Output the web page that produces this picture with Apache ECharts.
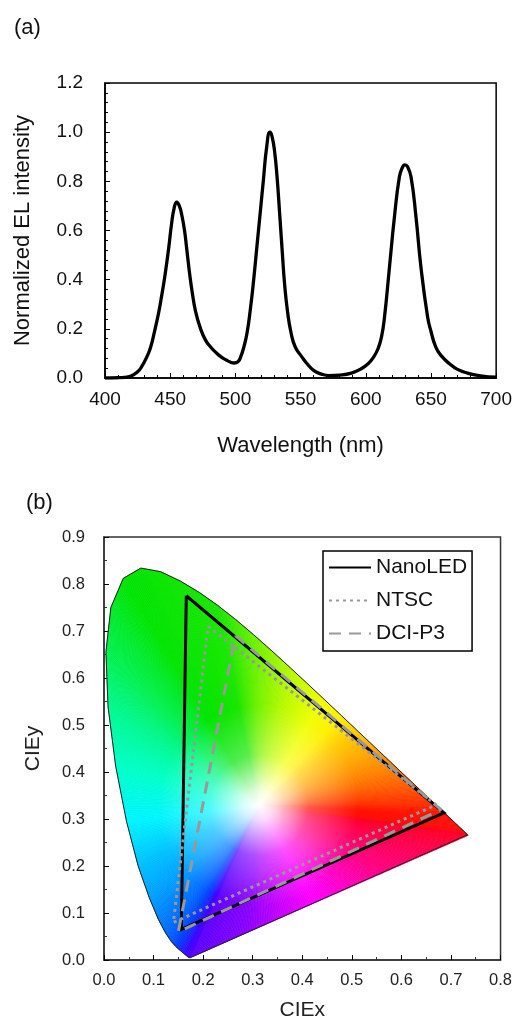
<!DOCTYPE html>
<html>
<head>
<meta charset="utf-8">
<script src="https://cdn.jsdelivr.net/npm/echarts@6/dist/echarts.min.js"></script>
<style>
  html, body { margin: 0; padding: 0; background: #fff; }
  #chart { width: 515px; height: 1022px; }
</style>
</head>
<body>
<div id="chart"></div>
<script>
// (a) EL spectrum
const wavelengths = [400, 410, 415, 420, 425, 428, 432, 435, 438, 441,
  443, 445.5, 447, 449, 451, 453, 455, 457, 459, 461,
  462.5, 465, 467, 469.5, 473, 477, 481, 485, 489, 493,
  496, 499, 502, 504, 506.5, 509, 511.5, 514, 516.5, 519,
  521.5, 524, 526.5, 528, 530, 532, 534, 536, 537.7, 540,
  542.8, 546, 551, 555, 560, 566, 572, 580, 589, 596,
  602, 606, 609.3, 612, 614.4, 618.2, 622, 625.8, 628, 630,
  632, 634.7, 638.5, 642.3, 647.4, 650, 653.7, 658, 664, 670,
  678, 688, 700];
const intensity = [0.000, 0.001, 0.003, 0.008, 0.025, 0.045, 0.085, 0.125, 0.19, 0.262,
  0.32, 0.40, 0.455, 0.535, 0.625, 0.69, 0.715, 0.70, 0.66, 0.60,
  0.534, 0.42, 0.345, 0.27, 0.205, 0.155, 0.126, 0.104, 0.086, 0.073,
  0.065, 0.061, 0.066, 0.085, 0.126, 0.185, 0.28, 0.398, 0.534, 0.67,
  0.806, 0.94, 1.0, 0.985, 0.925, 0.815, 0.665, 0.51, 0.385, 0.27,
  0.181, 0.125, 0.086, 0.058, 0.031, 0.016, 0.010, 0.012, 0.020, 0.036,
  0.059, 0.085, 0.118, 0.165, 0.249, 0.452, 0.656, 0.819, 0.855, 0.867,
  0.86, 0.819, 0.656, 0.452, 0.249, 0.19, 0.126, 0.09, 0.059, 0.036,
  0.020, 0.009, 0.003];

// (b) CIE 1931 spectral locus
const locusNm = [380, 400, 410, 420, 430, 440, 450, 460, 465, 470, 475, 480, 485, 490, 495, 500,
  505, 510, 515, 520, 525, 530, 535, 540, 545, 550, 555, 560, 565, 570, 575, 580,
  585, 590, 595, 600, 605, 610, 620, 630, 640, 650, 660, 680, 700];
const locusX = [0.1741, 0.1733, 0.1726, 0.1714, 0.1689, 0.1644, 0.1566, 0.1440, 0.1355, 0.1241, 0.1096, 0.0913, 0.0687, 0.0454, 0.0235, 0.0082,
  0.0039, 0.0139, 0.0389, 0.0743, 0.1142, 0.1547, 0.1929, 0.2296, 0.2658, 0.3016, 0.3373, 0.3731, 0.4087, 0.4441, 0.4788, 0.5125,
  0.5448, 0.5752, 0.6029, 0.6270, 0.6482, 0.6658, 0.6915, 0.7079, 0.7190, 0.7260, 0.7300, 0.7334, 0.7347];
const locusY = [0.0050, 0.0048, 0.0048, 0.0051, 0.0069, 0.0109, 0.0177, 0.0297, 0.0399, 0.0578, 0.0868, 0.1327, 0.2007, 0.2950, 0.4127, 0.5384,
  0.6548, 0.7502, 0.8120, 0.8338, 0.8262, 0.8059, 0.7816, 0.7543, 0.7243, 0.6923, 0.6589, 0.6245, 0.5896, 0.5547, 0.5202, 0.4866,
  0.4544, 0.4242, 0.3965, 0.3725, 0.3514, 0.3340, 0.3083, 0.2920, 0.2809, 0.2740, 0.2700, 0.2666, 0.2653];
const whitePoint = [0.3127, 0.3290];

const nanoLed = [[0.166, 0.775], [0.686, 0.313], [0.156, 0.065], [0.166, 0.775]];
const ntsc = [[0.21, 0.71], [0.67, 0.33], [0.14, 0.08], [0.21, 0.71]];
const dciP3 = [[0.265, 0.69], [0.68, 0.32], [0.15, 0.06], [0.265, 0.69]];

const FONT = "'Liberation Sans', Arial, sans-serif";

// fill colours of the diagram (style only): [wavelength or fraction, colour]
const locusPalette = [
  [380, '#5a00ff'], [440, '#3a00ff'], [460, '#0040ff'], [475, '#0080ff'], [485, '#00c0ff'],
  [490, '#00f4ff'], [495, '#00ffc8'], [500, '#00f890'], [505, '#00f050'], [515, '#00e400'],
  [540, '#18e600'], [550, '#68f000'], [560, '#b0f800'], [570, '#f0ff00'], [575, '#fff000'],
  [580, '#ffc800'], [590, '#ff9000'], [600, '#ff5a00'], [610, '#ff3000'], [620, '#ff1000'],
  [700, '#ff0028']
];
const purplePalette = [
  [0, '#ff0028'], [0.3, '#ff0080'], [0.55, '#ff00ff'], [0.8, '#8a00ff'], [1, '#5a00ff']
];
const glowStops = [
  {offset: 0, color: 'rgba(255,255,255,1)'}, {offset: 0.15, color: 'rgba(255,255,255,0.85)'},
  {offset: 0.5, color: 'rgba(255,255,255,0.3)'}, {offset: 1, color: 'rgba(255,255,255,0)'}
];

function hexRgb(h) {
  return [parseInt(h.substr(1, 2), 16), parseInt(h.substr(3, 2), 16), parseInt(h.substr(5, 2), 16)];
}

function paletteColor(palette, v) {
  for (let k = 0; k < palette.length - 1; k++) {
    let a = palette[k], b = palette[k + 1];
    if (v <= b[0]) {
      let t = Math.max(0, (v - a[0]) / (b[0] - a[0]));
      let ca = hexRgb(a[1]), cb = hexRgb(b[1]);
      let c = ca.map((x, j) => Math.round(x + (cb[j] - x) * t));
      return 'rgb(' + c.join(',') + ')';
    }
  }
  return palette[palette.length - 1][1];
}

// thin solid wedges from the white point to each locus segment
function renderFan(params, api) {
  let i = params.dataIndex;
  let n = locusX.length;
  let last = i === n - 1;
  let j = last ? 0 : i + 1;
  let w = api.coord(whitePoint);
  let p = api.coord([locusX[i], locusY[i]]);
  let q = api.coord([locusX[j], locusY[j]]);
  let len = Math.hypot(q[0] - p[0], q[1] - p[1]);
  let steps = Math.max(1, Math.ceil(len / 2));
  let children = [];
  for (let k = 0; k < steps; k++) {
    let t0 = k / steps, t1 = (k + 1) / steps, tm = (k + 0.5) / steps;
    let a = [p[0] + (q[0] - p[0]) * t0, p[1] + (q[1] - p[1]) * t0];
    let b = [p[0] + (q[0] - p[0]) * t1, p[1] + (q[1] - p[1]) * t1];
    let c = last ? paletteColor(purplePalette, tm)
      : paletteColor(locusPalette, locusNm[i] + (locusNm[j] - locusNm[i]) * tm);
    children.push({
      type: 'polygon',
      shape: {points: [w, a, b]},
      style: {fill: c, stroke: c, lineWidth: 0.7}
    });
  }
  return {type: 'group', children: children};
}

// whitish centre over the whole horseshoe
function renderGlow(params, api) {
  let w = api.coord(whitePoint);
  let pts = locusX.map((x, i) => api.coord([x, locusY[i]]));
  return {
    type: 'polygon',
    shape: {points: pts},
    style: {fill: new echarts.graphic.RadialGradient(w[0], w[1], 100, glowStops, true)}
  };
}

function boxAxis(opt) {
  return Object.assign({
    type: 'value',
    axisLine: {show: true, onZero: false, lineStyle: {color: '#000', width: 1.5}},
    axisTick: {show: true, inside: true, length: 5, lineStyle: {color: '#000', width: 1}},
    minorTick: {show: true, length: 3, lineStyle: {color: '#000', width: 1}},
    splitLine: {show: false},
    minorSplitLine: {show: false},
    axisLabel: {color: '#111', fontFamily: FONT, fontSize: 19},
    nameLocation: 'middle',
    nameTextStyle: {color: '#111', fontFamily: FONT, fontSize: 22}
  }, opt);
}

const chart = echarts.init(document.getElementById('chart'));

const option = {
  animation: false,
  backgroundColor: '#fff',
  title: [
    {text: '(a)', left: 9, top: 12, textStyle: {fontFamily: FONT, fontWeight: 'normal', fontSize: 22, color: '#111'}},
    {text: '(b)', left: 21, top: 487, textStyle: {fontFamily: FONT, fontWeight: 'normal', fontSize: 22, color: '#111'}}
  ],
  grid: [
    {left: 105, top: 83, width: 394, height: 295, show: true, borderColor: '#000', borderWidth: 1.5},
    {left: 104, top: 537, width: 398, height: 427, show: true, borderColor: '#333', borderWidth: 1.5}
  ],
  legend: {
    data: ['NanoLED', 'NTSC', 'DCI-P3'],
    orient: 'vertical',
    left: 323,
    top: 551,
    padding: [6, 5, 7, 5],
    itemGap: 12,
    itemWidth: 42,
    itemHeight: 14,
    itemStyle: {opacity: 0},
    borderColor: '#000',
    borderWidth: 1.5,
    backgroundColor: '#fff',
    textStyle: {fontFamily: FONT, fontSize: 21, color: '#111'}
  },
  xAxis: [
    boxAxis({
      gridIndex: 0, min: 400, max: 700, interval: 50,
      minorTick: {show: true, splitNumber: 5, length: 3, lineStyle: {color: '#000'}},
      axisLabel: {color: '#111', fontFamily: FONT, fontSize: 19, margin: 12},
      name: 'Wavelength (nm)', nameGap: 57
    }),
    boxAxis({
      gridIndex: 1, min: 0, max: 0.8, interval: 0.1,
      axisLine: {show: true, onZero: false, lineStyle: {color: '#333', width: 1.5}},
      minorTick: {show: true, splitNumber: 2, length: 3, lineStyle: {color: '#333'}},
      axisLabel: {color: '#222', fontFamily: FONT, fontSize: 16.5, margin: 12, formatter: v => v.toFixed(1)},
      name: 'CIEx', nameGap: 40,
      nameTextStyle: {color: '#222', fontFamily: FONT, fontSize: 21}
    })
  ],
  yAxis: [
    boxAxis({
      gridIndex: 0, min: 0, max: 1.2, interval: 0.2,
      minorTick: {show: true, splitNumber: 5, length: 3, lineStyle: {color: '#000'}},
      axisLabel: {color: '#111', fontFamily: FONT, fontSize: 19, margin: 22, formatter: v => v.toFixed(1)},
      name: 'Normalized EL intensity', nameGap: 71
    }),
    boxAxis({
      gridIndex: 1, min: 0, max: 0.9, interval: 0.1,
      axisLine: {show: true, onZero: false, lineStyle: {color: '#333', width: 1.5}},
      minorTick: {show: true, splitNumber: 2, length: 3, lineStyle: {color: '#333'}},
      axisLabel: {color: '#222', fontFamily: FONT, fontSize: 16.5, margin: 19, formatter: v => v.toFixed(1)},
      name: 'CIEy', nameGap: 60,
      nameTextStyle: {color: '#222', fontFamily: FONT, fontSize: 21}
    })
  ],
  series: [
    {
      name: 'spectrum',
      type: 'line',
      xAxisIndex: 0, yAxisIndex: 0,
      data: wavelengths.map((nm, i) => [nm, intensity[i]]),
      symbol: 'none',
      smooth: 0.5,
      lineStyle: {color: '#000', width: 3.3},
      silent: true
    },
    {
      name: 'gamut',
      type: 'custom',
      xAxisIndex: 1, yAxisIndex: 1,
      data: locusNm.map((nm, i) => [locusX[i], locusY[i], nm]),
      encode: {x: 0, y: 1},
      renderItem: renderFan,
      silent: true
    },
    {
      name: 'glow',
      type: 'custom',
      xAxisIndex: 1, yAxisIndex: 1,
      data: [whitePoint],
      encode: {x: 0, y: 1},
      renderItem: renderGlow,
      silent: true
    },
    {
      name: 'locus',
      type: 'line',
      xAxisIndex: 1, yAxisIndex: 1,
      data: locusNm.map((nm, i) => [locusX[i], locusY[i]]).concat([[locusX[0], locusY[0]]]),
      symbol: 'none',
      lineStyle: {color: '#222', width: 1},
      silent: true
    },
    {
      name: 'NanoLED',
      type: 'line',
      xAxisIndex: 1, yAxisIndex: 1,
      data: nanoLed,
      symbol: 'none',
      color: '#000',
      lineStyle: {color: '#000', width: 3, join: 'miter'}
    },
    {
      name: 'NTSC',
      type: 'line',
      xAxisIndex: 1, yAxisIndex: 1,
      data: ntsc,
      symbol: 'none',
      color: '#999',
      lineStyle: {color: '#999', width: 3, type: [3, 4]}
    },
    {
      name: 'DCI-P3',
      type: 'line',
      xAxisIndex: 1, yAxisIndex: 1,
      data: dciP3,
      symbol: 'none',
      color: '#999',
      lineStyle: {color: '#999', width: 3, type: [12, 8]}
    }
  ]
};

chart.setOption(option);
</script>
</body>
</html>
